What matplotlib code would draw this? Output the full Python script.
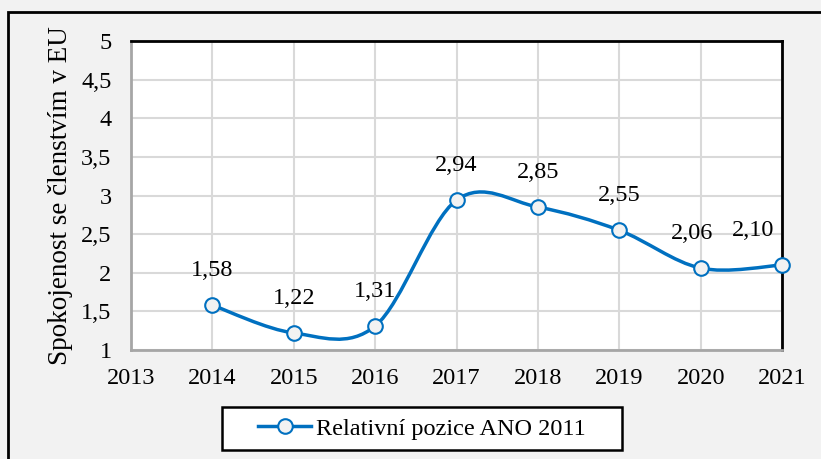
import numpy as np
import matplotlib.pyplot as plt
from matplotlib.path import Path
from matplotlib.patches import PathPatch, Rectangle
from matplotlib.lines import Line2D
from matplotlib.ticker import FuncFormatter

plt.rcParams['font.family'] = ['Liberation Serif', 'DejaVu Serif']

# data
years = [2014, 2015, 2016, 2017, 2018, 2019, 2020, 2021]
values = [1.58, 1.22, 1.31, 2.94, 2.85, 2.55, 2.06, 2.10]
labels = ['1,58', '1,22', '1,31', '2,94', '2,85', '2,55', '2,06', '2,10']
series_name = 'Relativní pozice ANO 2011'
blue = '#0070c0'
fs = 17.5

fig = plt.figure(figsize=(8.21, 4.59), dpi=100, facecolor='#f2f2f2')
ax = fig.add_axes([131/821, 1 - 350/459, 651/821, 309/459])
ax.set_facecolor('white')

# smoothed line like Excel (Catmull-Rom as cubic bezier)
x = np.array(years, dtype=float)
y = np.array(values, dtype=float)
verts = [(x[0], y[0])]
codes = [Path.MOVETO]
n = len(x)
for i in range(n - 1):
    p0 = (x[i - 1], y[i - 1]) if i > 0 else (x[i], y[i])
    p1 = (x[i], y[i])
    p2 = (x[i + 1], y[i + 1])
    p3 = (x[i + 2], y[i + 2]) if i + 2 < n else (x[i + 1], y[i + 1])
    c1 = (p1[0] + (p2[0] - p0[0]) / 6, p1[1] + (p2[1] - p0[1]) / 6)
    c2 = (p2[0] - (p3[0] - p1[0]) / 6, p2[1] - (p3[1] - p1[1]) / 6)
    verts += [c1, c2, p2]
    codes += [Path.CURVE4] * 3
ax.add_patch(PathPatch(Path(verts, codes), facecolor='none', edgecolor=blue,
                       lw=2.5, zorder=3, clip_on=False))
ax.plot(years, values, ls='none', marker='o', ms=10.5, mfc='#f2f2f2',
        mec=blue, mew=1.5, zorder=4, clip_on=False)

offsets = {2020: -6, 2021: -21}
for xi, yi, lab in zip(years, values, labels):
    ax.annotate(lab, (xi, yi), xytext=(offsets.get(xi, 0), 25),
                textcoords='offset points', ha='center', va='center',
                fontsize=fs)

ax.set_xlim(2013, 2021)
ax.set_ylim(1, 5)
ax.set_xticks(range(2013, 2022))
ax.set_yticks(np.arange(1, 5.01, 0.5))
ax.yaxis.set_major_formatter(FuncFormatter(lambda v, p: ('%g' % v).replace('.', ',')))
ax.tick_params(length=0, labelsize=fs, colors='black')
ax.tick_params(axis='x', pad=13)
ax.tick_params(axis='y', pad=14)
ax.grid(True, color='#d9d9d9', lw=1.5)
ax.set_axisbelow(True)
for s in ['top', 'right']:
    ax.spines[s].set_color('black')
    ax.spines[s].set_linewidth(2)
for s in ['left', 'bottom']:
    ax.spines[s].set_color('#a6a6a6')
    ax.spines[s].set_linewidth(2)
ax.set_ylabel('Spokojenost se členstvím v EU', fontsize=19.5, labelpad=6)

# legend box drawn separately for Excel-like padding
fig.patches.append(Rectangle((222/821, 1 - 450/459), 400/821, 43/459,
                             transform=fig.transFigure, facecolor='white',
                             edgecolor='black', lw=1.8, zorder=1))
handle = Line2D([], [], color=blue, lw=2.5, marker='o', ms=10.5, mfc='#f2f2f2',
                mec=blue, mew=1.5)
leg = fig.legend([handle], [series_name], loc='center',
                 bbox_to_anchor=(422/821, 1 - 428.5/459), fontsize=fs,
                 frameon=False, handlelength=2.2, handletextpad=0.2,
                 borderpad=0, borderaxespad=0)
leg.set_zorder(5)

# outer border
fig.patches.append(Rectangle((8/821, -0.1), 1.2, 1 - 12/459 + 0.1,
                             transform=fig.transFigure, fill=False,
                             edgecolor='black', lw=2))

fig.savefig('out.png', dpi=100, facecolor=fig.get_facecolor())
